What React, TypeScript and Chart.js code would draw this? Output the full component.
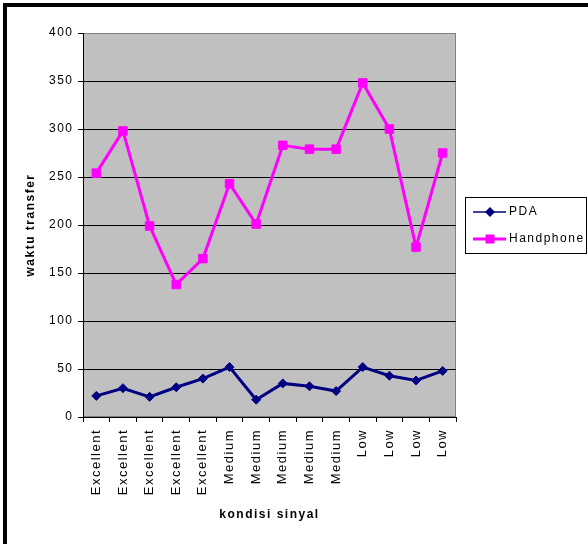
import React, { useEffect, useRef } from 'react';
import { Chart, registerables } from 'chart.js';

Chart.register(...registerables);

const categories = [
  'Excellent', 'Excellent', 'Excellent', 'Excellent', 'Excellent',
  'Medium', 'Medium', 'Medium', 'Medium', 'Medium',
  'Low', 'Low', 'Low', 'Low',
];
const pdaValues = [22, 30, 21, 31, 40, 52, 18, 35, 32, 27, 52, 43, 38, 48];
const handphoneValues = [254, 298, 199, 138, 165, 243, 201, 283, 279, 279, 348, 300, 177, 275];
const seriesNames = ['PDA', 'Handphone'];
const yMin = 0;
const yMax = 400;
const yStep = 50;
const xTitle = 'kondisi sinyal';
const yTitle = 'waktu transfer';

const FONT = '"Liberation Sans", Arial, sans-serif';
const PDA_COLOR = '#000080';
const HP_COLOR = '#FF00FF';

const decorPlugin = {
  id: 'decor',
  beforeDraw(chart: any) {
    const { ctx, chartArea: a } = chart;
    ctx.save();
    ctx.fillStyle = '#ffffff';
    ctx.fillRect(0, 0, chart.width, chart.height);
    ctx.fillStyle = '#c0c0c0';
    ctx.fillRect(a.left, a.top, a.right - a.left, a.bottom - a.top);
    ctx.strokeStyle = '#808080';
    ctx.lineWidth = 1;
    ctx.strokeRect(a.left + 0.5, a.top + 0.5, a.right - a.left - 1, a.bottom - a.top - 1);
    ctx.strokeStyle = '#000000';
    ctx.lineWidth = 4;
    ctx.strokeRect(5, 5, 700, 700);
    ctx.restore();
    (ctx as any).letterSpacing = '1.5px';
  },
  afterDraw(chart: any) {
    const { ctx } = chart;
    ctx.save();
    (ctx as any).letterSpacing = '1.5px';
    ctx.strokeStyle = '#000';
    ctx.lineWidth = 1;
    ctx.strokeRect(465.5, 197.5, 121, 56);
    const items = [
      { name: seriesNames[0], color: PDA_COLOR, y: 212, lw: 1.5, style: 'rectRot' },
      { name: seriesNames[1], color: HP_COLOR, y: 239, lw: 3, style: 'rect' },
    ];
    items.forEach((it) => {
      ctx.strokeStyle = it.color;
      ctx.lineWidth = it.lw;
      ctx.beginPath();
      ctx.moveTo(473, it.y);
      ctx.lineTo(506, it.y);
      ctx.stroke();
      ctx.fillStyle = it.color;
      ctx.beginPath();
      if (it.style === 'rectRot') {
        ctx.moveTo(490, it.y - 5);
        ctx.lineTo(495, it.y);
        ctx.lineTo(490, it.y + 5);
        ctx.lineTo(485, it.y);
        ctx.closePath();
      } else {
        ctx.rect(485.5, it.y - 4.5, 9, 9);
      }
      ctx.fill();
      ctx.fillStyle = '#000';
      ctx.font = `12px ${FONT}`;
      ctx.textBaseline = 'middle';
      ctx.textAlign = 'left';
      ctx.fillText(it.name, 509, it.y);
    });
    ctx.restore();
    (ctx as any).letterSpacing = '0px';
  },
};

export default function App() {
  const ref = useRef<HTMLCanvasElement | null>(null);

  useEffect(() => {
    if (!ref.current) return;
    const chart = new Chart(ref.current, {
      type: 'line',
      data: {
        labels: categories,
        datasets: [
          {
            label: seriesNames[0],
            data: pdaValues,
            borderColor: PDA_COLOR,
            backgroundColor: PDA_COLOR,
            borderWidth: 3,
            pointStyle: 'rectRot',
            pointRadius: 4.5,
            pointBorderWidth: 1,
            tension: 0,
          },
          {
            label: seriesNames[1],
            data: handphoneValues,
            borderColor: HP_COLOR,
            backgroundColor: HP_COLOR,
            borderWidth: 3,
            pointStyle: 'rect',
            pointRadius: 6,
            pointBorderWidth: 1,
            tension: 0,
          },
        ],
      },
      plugins: [decorPlugin],
      options: {
        animation: false,
        responsive: false,
        devicePixelRatio: 1,
        layout: { padding: { left: 0, top: 33, right: 132, bottom: 10 } },
        plugins: {
          legend: { display: false },
          tooltip: { enabled: false },
        },
        scales: {
          x: {
            type: 'category',
            offset: true,
            grid: {
              offset: true,
              drawOnChartArea: false,
              drawTicks: true,
              tickLength: 5,
              color: '#000',
            },
            border: { display: true, color: '#000', width: 1 },
            ticks: {
              autoSkip: false,
              minRotation: 90,
              maxRotation: 90,
              color: '#000',
              padding: 7,
              font: { size: 13, family: FONT },
            },
            title: {
              display: true,
              text: xTitle,
              color: '#000',
              font: { size: 12, weight: 'bold', family: FONT },
              padding: { top: 0, bottom: 12 },
            },
            afterFit: (s: any) => {
              s.height = 117;
            },
          },
          y: {
            min: yMin,
            max: yMax,
            ticks: {
              stepSize: yStep,
              color: '#000',
              padding: 4.5,
              font: { size: 12, family: FONT },
            },
            grid: {
              color: (c: any) => (c.tick && c.tick.value === yMax ? '#808080' : '#000'),
              tickColor: '#000',
              tickLength: 5,
              lineWidth: 1,
            },
            border: { display: true, color: '#000', width: 1 },
            title: {
              display: true,
              text: yTitle,
              color: '#000',
              font: { size: 12, weight: 'bold', family: FONT },
              padding: { top: 23, bottom: 0 },
            },
            afterFit: (s: any) => {
              s.width = 83;
            },
          },
        },
      },
    } as any);
    return () => chart.destroy();
  }, []);

  return (
    <div style={{ position: 'absolute', left: 0, top: 0, width: 588, height: 544 }}>
      <canvas ref={ref} width={588} height={544} />
    </div>
  );
}
